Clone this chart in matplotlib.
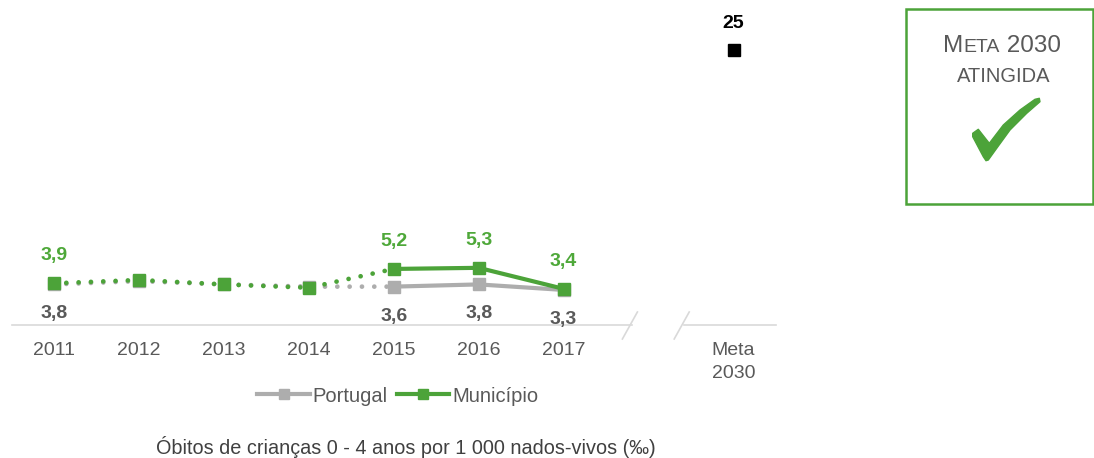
import matplotlib
matplotlib.use('Agg')
import matplotlib.pyplot as plt
import numpy as np
from matplotlib.lines import Line2D
from matplotlib.transforms import IdentityTransform
from matplotlib.patches import Rectangle, Polygon

plt.rcParams['font.family'] = ['Liberation Sans', 'DejaVu Sans']

# ---- data ----
years = ['2011', '2012', '2013', '2014', '2015', '2016', '2017']
meta_label = 'Meta\n2030'
municipio = [3.9, 4.2, 3.8, 3.5, 5.2, 5.3, 3.4]
portugal = [3.8, 4.1, 3.8, 3.6, 3.6, 3.8, 3.3]
meta_value = 25
labelled_idx = [0, 4, 5, 6]
series_names = ['Portugal', 'Município']
caption = 'Óbitos de crianças 0 - 4 anos por 1 000 nados-vivos (‰)'
box_line1 = ('M', 'ETA', ' 2030')
box_line2 = 'ATINGIDA'

# ---- style ----
GREEN = '#4CA339'
GREEN_TXT = '#4EA839'
GRAY = '#ADADAD'
GRAY_TXT = '#595959'
AXIS = '#D9D9D9'
W, H = 1094, 458

fig = plt.figure(figsize=(W / 100, H / 100), dpi=100)
ax = fig.add_axes([11.5 / W, 1 - 325 / H, (776 - 11.5) / W, (325 - 20) / H])
ax.set_xlim(-0.5, 8.5)
ax.set_ylim(0.13, 27.71)
for s in ax.spines.values():
    s.set_visible(False)
ax.set_yticks([])

x = np.arange(len(years))
meta_x = len(years) + 1
dotted = (0, (0.01, 2.6))

# Portugal
ax.plot(x[:5], portugal[:5], color=GRAY, lw=3.4, ls=dotted, dash_capstyle='round', zorder=2)
ax.plot(x[4:], portugal[4:], color=GRAY, lw=3, zorder=2)
ax.plot(x, portugal, ls='none', marker='s', ms=9, color=GRAY, zorder=3)
# Municipio
ax.plot(x[:5], municipio[:5], color=GREEN, lw=3.4, ls=dotted, dash_capstyle='round', zorder=4)
ax.plot(x[4:], municipio[4:], color=GREEN, lw=3, zorder=4)
ax.plot(x, municipio, ls='none', marker='s', ms=9, color=GREEN, zorder=5)
# Meta
ax.plot([meta_x], [meta_value], ls='none', marker='s', ms=9, color='black', zorder=5)
ax.annotate(f'{meta_value}', (meta_x, meta_value), xytext=(0, 16), textcoords='offset points',
            ha='center', va='baseline', fontsize=14, fontweight='bold', color='black')


def fmt(v):
    return f'{v:.1f}'.replace('.', ',')


for i in labelled_idx:
    ax.annotate(fmt(municipio[i]), (x[i], municipio[i]), xytext=(0, 16.5), textcoords='offset points',
                ha='center', va='baseline', fontsize=14, fontweight='bold', color=GREEN_TXT, zorder=6)
    ax.annotate(fmt(portugal[i]), (x[i], portugal[i]), xytext=(0, -24.5), textcoords='offset points',
                ha='center', va='baseline', fontsize=14, fontweight='bold', color=GRAY_TXT, zorder=6)

ax.set_xticks(list(x) + [meta_x])
ax.set_xticklabels(years + [meta_label])
ax.tick_params(axis='x', length=0, pad=12, labelsize=14, labelcolor=GRAY_TXT)
for lbl in ax.get_xticklabels():
    lbl.set_linespacing(1.45)

# broken axis line
b1, b2 = 6.8, 7.42
xt = ax.get_xaxis_transform()
ax.plot([-0.5, b1], [0, 0], transform=xt, color=AXIS, lw=1.2, clip_on=False)
ax.plot([b2, 8.5], [0, 0], transform=xt, color=AXIS, lw=1.2, clip_on=False)
for b in (b1 - 0.02, b2 - 0.03):
    px, py = xt.transform((b, 0))
    fig.add_artist(Line2D([px - 7.5, px + 7.5], [py - 14, py + 13], transform=IdentityTransform(),
                          color=AXIS, lw=1.2))

# legend
handles = [Line2D([], [], color=GRAY, lw=3, marker='s', ms=7),
           Line2D([], [], color=GREEN, lw=3, marker='s', ms=7)]
fig.legend(handles, series_names, loc='center', bbox_to_anchor=(398 / W, 1 - 396 / H), ncol=2,
           frameon=False, fontsize=14.5, handlelength=2.6, handletextpad=0.15, columnspacing=0.45,
           labelcolor=GRAY_TXT)

fig.text(406 / W, 1 - 447 / H, caption, ha='center', va='center', fontsize=14.3, color='#404040')

# target box
fig.add_artist(Rectangle((906 / W, 1 - 204 / H), 187 / W, 195 / H, transform=fig.transFigure,
                         fill=False, edgecolor=GREEN, lw=1.8))
r = fig.canvas.get_renderer()
sizes = [17.5, 14, 17.5]
parts = []
for txt, fs in zip(box_line1, sizes):
    t = fig.text(0, 1 - 52 / H, txt, fontsize=fs, color=GRAY_TXT, ha='left', va='baseline')
    parts.append(t)
widths = [t.get_window_extent(r).width for t in parts]
start = 1001.7 - sum(widths) / 2
for t, w in zip(parts, widths):
    t.set_x(start / W)
    start += w
fig.text(1003.5 / W, 1 - 81.7 / H, box_line2, fontsize=14.5, color=GRAY_TXT, ha='center', va='baseline')

# check mark (decorative shape, pixel outline)
check_px = [(972.7, 133.3), (978.3, 129.3), (989.3, 143.3), (1003.3, 125), (1020, 110),
            (1035, 99.3), (1039.3, 98.3), (1040, 101.7), (1026.7, 113.3), (1010, 130),
            (996.7, 148.3), (988.3, 160), (986, 160.7), (983.3, 156.7), (972.7, 136.7)]
check = Polygon([(px, H - py) for px, py in check_px], closed=True, transform=IdentityTransform(),
                facecolor=GREEN, edgecolor=GREEN, lw=1, joinstyle='round')
fig.add_artist(check)

fig.savefig('out.png', dpi=100)
